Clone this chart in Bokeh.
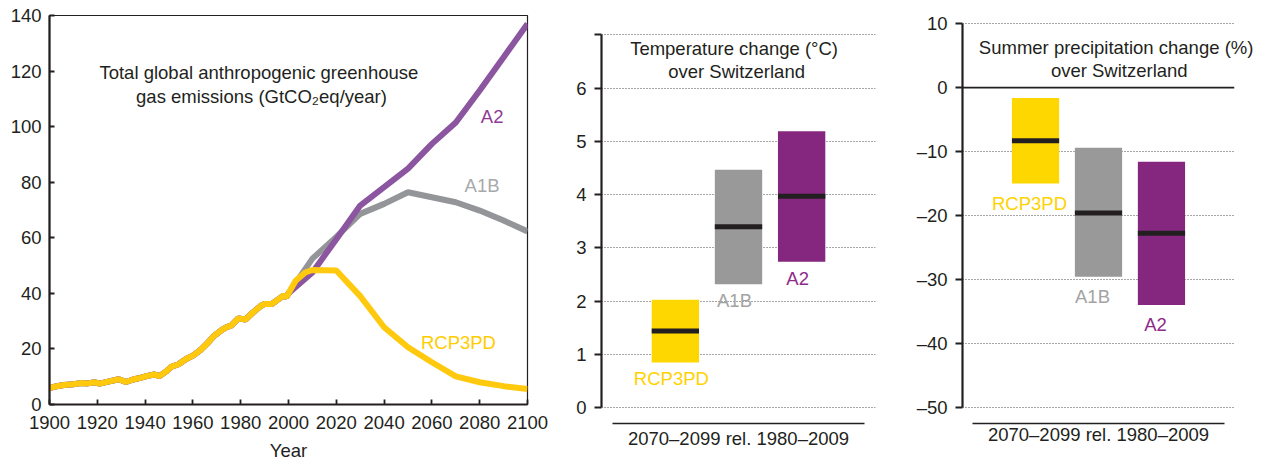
from bokeh.plotting import figure
from bokeh.layouts import row
from bokeh.models import (Range1d, FactorRange, FixedTicker, Label,
                          Span, ColumnDataSource, Grid)
from bokeh.embed import file_html
from bokeh.resources import INLINE
from bokeh.core.properties import value

FONT = "Liberation Sans"
INK = "#231f20"
FS = "18.5px"

# ---------------- data: emissions (GtCO2eq/year) ----------------
hist_years = [1900, 1903, 1906, 1910, 1913, 1916, 1919, 1921, 1925, 1929, 1932, 1935,
              1938, 1941, 1944, 1946, 1949, 1951, 1954, 1957, 1960, 1963, 1966, 1969,
              1972, 1974, 1976, 1979, 1982, 1985, 1988, 1990, 1993, 1996, 1998, 1999, 2000]
hist_vals = [5.9, 6.6, 7.0, 7.3, 7.7, 7.6, 8.0, 7.5, 8.3, 9.1, 8.1, 9.0,
             9.6, 10.3, 10.8, 10.2, 12.0, 13.6, 14.5, 16.3, 17.6, 19.5, 22.0, 24.8,
             26.8, 27.8, 28.4, 31.0, 30.6, 33.0, 35.2, 36.2, 36.2, 38.0, 39.2, 38.6, 40.0]

rcp_years = [2003, 2007, 2010, 2020, 2030, 2040, 2050, 2060, 2070, 2080, 2090, 2100]
rcp_vals = [44.5, 47.5, 48.4, 48.2, 39.0, 27.8, 20.6, 15.2, 10.1, 8.0, 6.6, 5.6]

sres_years = [2010, 2020, 2030, 2040, 2050, 2060, 2070, 2080, 2090, 2100]
a1b_vals = [52.5, 60.3, 68.6, 72.2, 76.4, 74.6, 72.8, 69.8, 66.2, 62.3]
a2_vals = [47.5, 59.5, 71.6, 78.2, 84.9, 93.8, 101.5, 113.0, 125.0, 137.0]

# ---------------- data: Swiss changes 2070-2099 rel. 1980-2009 ----------------
scenarios = ["RCP3PD", "A1B", "A2"]
temp_low = [0.85, 2.32, 2.74]
temp_med = [1.44, 3.40, 3.97]
temp_high = [2.03, 4.47, 5.19]
prec_low = [-15.0, -29.6, -34.0]
prec_med = [-8.3, -19.6, -22.8]
prec_high = [-1.6, -9.4, -11.6]

bar_colors = ["#ffd700", "#999999", "#85277f"]
label_colors = ["#ffd200", "#a3a3a3", "#8e2a8a"]

TOP = 15  # common top border (row aligns frame tops)

# ================= panel 1: emissions =================
p1 = figure(frame_width=478, frame_height=389, min_border_left=49, min_border_right=33,
            min_border_top=TOP, min_border_bottom=61,
            x_range=Range1d(1900, 2100), y_range=Range1d(0, 140),
            output_backend="svg", toolbar_location=None)
p1.grid.visible = False
p1.outline_line_color = INK
p1.outline_line_width = 1.2
for ax in (p1.xaxis[0], p1.yaxis[0]):
    ax.axis_line_color = INK
    ax.axis_line_width = 2.2
    ax.major_tick_in = 5
    ax.major_tick_out = 0
    ax.major_tick_line_color = INK
    ax.major_tick_line_width = 1.8
    ax.minor_tick_out = 0
    ax.minor_tick_in = 0
    ax.major_label_text_font = FONT
    ax.major_label_text_font_size = FS
    ax.major_label_text_color = INK
p1.xaxis.ticker = FixedTicker(ticks=list(range(1900, 2101, 20)))
p1.yaxis.ticker = FixedTicker(ticks=list(range(0, 141, 20)))
p1.xaxis.major_label_standoff = 11
p1.yaxis.major_label_standoff = 8
p1.xaxis.axis_label = "Year"
p1.xaxis.axis_label_text_font = FONT
p1.xaxis.axis_label_text_font_size = FS
p1.xaxis.axis_label_text_font_style = "normal"
p1.xaxis.axis_label_text_color = INK
p1.xaxis.axis_label_standoff = 8

p1.line(hist_years + sres_years, hist_vals + a1b_vals, line_color="#939598", line_width=6)
p1.line(hist_years + sres_years, hist_vals + a2_vals, line_color="#8b55a0", line_width=6)
p1.line(hist_years + rcp_years, hist_vals + rcp_vals, line_color="#ffc90e", line_width=6)

p1.add_layout(Label(x=1987.6, y=119.5, text="Total global anthropogenic greenhouse",
                    text_align="center", text_baseline="middle", text_font=FONT,
                    text_font_size=FS, text_color=INK))
p1.add_layout(Label(x=1988.7, y=110.9, text="gas emissions (GtCO\u2082eq/year)",
                    text_align="center", text_baseline="middle", text_font=FONT,
                    text_font_size=FS, text_color=INK))
for tx, xx, yy, col in [("A2", 2085.2, 103.6, "#8f3b95"), ("A1B", 2081.0, 78.8, "#a7a9ac"),
                        ("RCP3PD", 2071.1, 22.4, "#ffcc00")]:
    p1.add_layout(Label(x=xx, y=yy, text=tx, text_align="center", text_baseline="middle",
                        text_font=FONT, text_font_size=FS, text_color=col))


# ================= bar panels =================
def bar_panel(low, med, high, y0, y1, ticks, bounds, grid_ticks, overrides,
              frame_w, frame_h, bl, br, pad, lab_dy, lab_dx, label_standoff):
    p = figure(frame_width=frame_w, frame_height=frame_h, min_border_left=bl,
               min_border_right=br, min_border_top=TOP, min_border_bottom=30,
               x_range=FactorRange(factors=scenarios, range_padding=pad,
                                   range_padding_units="absolute"),
               y_range=Range1d(y0, y1),
               output_backend="svg", toolbar_location=None)
    p.outline_line_color = None
    p.xgrid.visible = False
    p.ygrid.visible = False
    p.add_layout(Grid(dimension=1, ticker=FixedTicker(ticks=grid_ticks),
                      grid_line_color="#4d4d4f", grid_line_dash="1 2",
                      grid_line_width=1.2))
    yax = p.yaxis[0]
    yax.ticker = FixedTicker(ticks=ticks)
    yax.bounds = bounds
    yax.major_label_overrides = overrides
    yax.axis_line_color = INK
    yax.axis_line_width = 2.2
    yax.major_tick_in = 0
    yax.major_tick_out = 7
    yax.major_tick_line_color = INK
    yax.major_tick_line_width = 2
    yax.minor_tick_in = 0
    yax.minor_tick_out = 0
    yax.major_label_standoff = 8
    yax.major_label_text_font = FONT
    yax.major_label_text_font_size = FS
    yax.major_label_text_color = INK

    xax = p.xaxis[0]
    xax.bounds = (-0.5, 3.5)
    xax.axis_line_color = INK
    xax.axis_line_width = 1.5
    xax.major_tick_in = 0
    xax.major_tick_out = 0
    xax.major_label_standoff = 0
    xax.major_label_text_font_size = "0px"
    xax.major_label_text_color = None
    xax.axis_label = "2070\u20132099 rel. 1980\u20132009"
    xax.axis_label_text_font = FONT
    xax.axis_label_text_font_size = FS
    xax.axis_label_text_font_style = "normal"
    xax.axis_label_text_color = INK
    xax.axis_label_standoff = label_standoff

    src = ColumnDataSource(dict(cat=scenarios, low=low, med=med, high=high,
                                color=bar_colors, lcolor=label_colors))
    p.vbar(x="cat", bottom="low", top="high", width=0.75, fill_color="color",
           line_color=None, source=src)
    p.rect(x="cat", y="med", width=0.75, height=5, height_units="screen",
           fill_color=INK, line_color=None, source=src)
    p.text(x="cat", y="low", text="cat", text_color="lcolor", text_align="center",
           text_baseline="top", y_offset=lab_dy, x_offset=lab_dx,
           text_font=value(FONT), text_font_size=value(FS), source=src)
    return p


def title_label(text, x, y):
    return Label(x=x, y=y, text=text, text_align="center", text_baseline="middle",
                 text_font=FONT, text_font_size=FS, text_color=INK)


# frame 15 -> 423 px; 0 degC at 407.3 px, 53.28 px per degC
p2 = bar_panel(temp_low, temp_med, temp_high, -0.295, 7.363,
               list(range(0, 8)), (0, 7), list(range(0, 8)), {7: ""},
               274, 408, 41, 25, 0.67, 6, -4, 4)
p2.add_layout(title_label("Temperature change (\u00b0C)", 1.43, 6.74))
p2.add_layout(title_label("over Switzerland", 1.47, 6.31))

prec_ticks = [10, 0, -10, -20, -30, -40, -50]
prec_over = {v: (str(v) if v >= 0 else "\u2013" + str(-v)) for v in prec_ticks}
# frame 15 -> 423 px; 0 % at 87.2 px, 6.389 px per %
p3 = bar_panel(prec_low, prec_med, prec_high, -52.56, 11.30,
               prec_ticks, (-50, 10), [10, -10, -20, -30, -40, -50], prec_over,
               272, 408, 62, 33, 0.66, 9, -6, 0)
p3.add_layout(Span(location=0, dimension="width", line_color=INK, line_width=1.8))
# the long first line runs past the frame edge: give it a side-panel layout so it is not clipped
p3.add_layout(title_label("Summer precipitation change (%)", 1.78, 6.3), "below")
p3.add_layout(title_label("over Switzerland", 1.83, 2.66))

layout = row(p1, p2, p3)
open("out.html", "w").write(file_html(layout, INLINE))
